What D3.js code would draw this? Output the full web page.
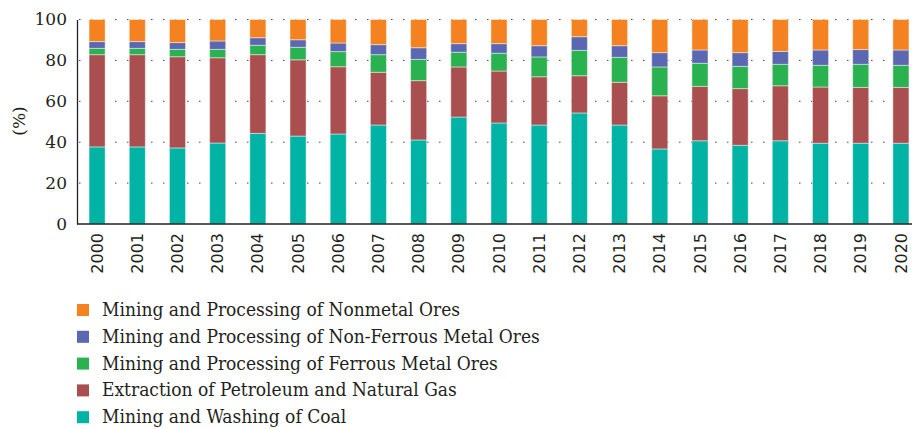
<!DOCTYPE html>
<html>
<head>
<meta charset="utf-8">
<script src="https://cdn.jsdelivr.net/npm/d3@7"></script>
<style>
  body { margin: 0; background: #fff; }
  svg { display: block; }
  .grid line { stroke: #444; stroke-dasharray: 1.5 10.5; }
  .serif { font-family: "DejaVu Serif", serif; }
  .legend-text { font-family: "DejaVu Serif", serif; font-stretch: condensed; }
</style>
</head>
<body>
<div id="chart"></div>
<script>
// data (shares in %)
const years = ["2000","2001","2002","2003","2004","2005","2006","2007","2008","2009","2010",
               "2011","2012","2013","2014","2015","2016","2017","2018","2019","2020"];
const coal       = [37.7, 37.7, 37.2, 39.6, 44.3, 43.0, 44.0, 48.4, 41.1, 52.3, 49.4, 48.4, 54.3, 48.4, 36.7, 40.7, 38.5, 40.7, 39.5, 39.5, 39.5];
const petroleum  = [45.1, 45.1, 44.6, 41.7, 38.5, 37.3, 32.9, 25.8, 29.0, 24.5, 25.4, 23.6, 18.2, 20.9, 26.0, 26.6, 27.7, 26.9, 27.5, 27.3, 27.3];
const ferrous    = [3.1, 3.1, 3.6, 4.1, 4.6, 6.1, 7.4, 8.6, 10.4, 7.2, 8.7, 9.7, 12.4, 12.2, 14.1, 11.3, 10.9, 10.5, 10.6, 11.3, 10.8];
const nonFerrous = [3.3, 3.3, 3.3, 4.1, 3.7, 3.7, 4.2, 4.9, 5.7, 4.2, 4.7, 5.5, 6.7, 5.7, 7.0, 6.5, 6.7, 6.3, 7.5, 7.2, 7.5];
const nonmetal   = [10.8, 10.8, 11.3, 10.5, 8.9, 9.9, 11.5, 12.3, 13.8, 11.8, 11.8, 12.8, 8.4, 12.8, 16.2, 14.9, 16.2, 15.6, 14.9, 14.7, 14.9];

const seriesNames = [
    "Mining and Washing of Coal",
    "Extraction of Petroleum and Natural Gas",
    "Mining and Processing of Ferrous Metal Ores",
    "Mining and Processing of Non-Ferrous Metal Ores",
    "Mining and Processing of Nonmetal Ores"
];
const colors = ["#00b3a4", "#a94f50", "#2ab150", "#5b67b1", "#f58220"];
const yTicks = [0, 20, 40, 60, 80, 100];

const width = 912, height = 429;
const margin = { left: 77, top: 19.5, bottom: 224 };

const svg = d3.select("#chart").append("svg")
    .attr("width", width)
    .attr("height", height);

// table for the stack
const rows = years.map((y, i) => ({
    year: y, s0: coal[i], s1: petroleum[i], s2: ferrous[i], s3: nonFerrous[i], s4: nonmetal[i]
}));
const keys = ["s0", "s1", "s2", "s3", "s4"];
const stacked = d3.stack().keys(keys)(rows);

const x = d3.scaleBand().domain(years).range([77, 921]).padding(0.6).paddingOuter(0.3);
const y = d3.scaleLinear().domain([0, 100]).range([margin.bottom, margin.top]);

// dotted grid
svg.append("g").attr("class", "grid")
    .selectAll("line")
    .data(yTicks.filter(d => d > 0))
    .join("line")
    .attr("x1", 79).attr("x2", 912)
    .attr("y1", d => y(d)).attr("y2", d => y(d));

// bars
svg.append("g")
    .selectAll("g")
    .data(stacked)
    .join("g")
    .attr("fill", (d, i) => colors[i])
    .selectAll("rect")
    .data(d => d)
    .join("rect")
    .attr("x", d => x(d.data.year))
    .attr("width", x.bandwidth())
    .attr("y", d => y(d[1]))
    .attr("height", d => y(d[0]) - y(d[1]))
    .attr("stroke", "rgba(255,255,255,0.45)")
    .attr("stroke-width", 1);

// y axis
const yAxis = svg.append("g")
    .attr("transform", `translate(${margin.left},0)`)
    .call(d3.axisLeft(y).tickValues(yTicks).tickSize(0).tickPadding(10));
yAxis.attr("font-family", null);
yAxis.select(".domain").attr("stroke", "#222").attr("stroke-width", 1.3);
yAxis.selectAll("text")
    .attr("class", "serif")
    .attr("font-size", 17)
    .attr("fill", "#231f20");

// x axis
const xAxis = svg.append("g")
    .attr("transform", `translate(0,${margin.bottom})`)
    .call(d3.axisBottom(x).tickSize(0).tickSizeOuter(0));
xAxis.attr("font-family", null);
xAxis.select(".domain").attr("d", `M${margin.left},0H912`).attr("stroke", "#222").attr("stroke-width", 1.5);
xAxis.selectAll("text")
    .style("font-family", "'DejaVu Sans', sans-serif")
    .attr("font-size", 16)
    .attr("fill", "#231f20")
    .attr("transform", "rotate(-90)")
    .attr("text-anchor", "end")
    .attr("dx", "-9")
    .attr("dy", "0.35em")
    .attr("x", 0).attr("y", 0);

// y label
svg.append("text")
    .attr("class", "serif")
    .attr("transform", "translate(19,121) rotate(-90)")
    .attr("text-anchor", "middle")
    .attr("dy", "0.35em")
    .attr("font-size", 17)
    .attr("fill", "#231f20")
    .text("(%)");

// legend (top item = last series)
const legendOrder = [4, 3, 2, 1, 0];
const legend = svg.append("g")
    .selectAll("g")
    .data(legendOrder)
    .join("g")
    .attr("transform", (d, i) => `translate(77,${310 + i * 26.8})`);
legend.append("rect")
    .attr("x", 0).attr("y", -6)
    .attr("width", 12).attr("height", 12)
    .attr("fill", d => colors[d]);
legend.append("text")
    .attr("class", "legend-text")
    .attr("x", 25)
    .attr("dy", "0.32em")
    .attr("font-size", 19)
    .attr("fill", "#231f20")
    .text(d => seriesNames[d]);
</script>
</body>
</html>
